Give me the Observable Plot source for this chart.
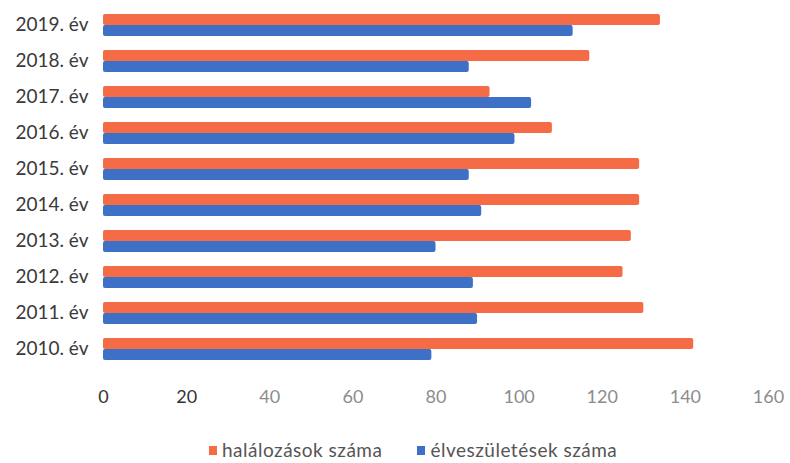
<!DOCTYPE html>
<html><head><meta charset="utf-8">
<script src="https://cdn.jsdelivr.net/npm/d3@7"></script>
<script src="https://cdn.jsdelivr.net/npm/@observablehq/plot@0.6"></script>
<style>
body{margin:0;background:#fff;font-family:Lato,"Open Sans",sans-serif;overflow:hidden;}
#legend{height:23px;line-height:23px;display:flex;align-items:center;justify-content:flex-start;padding-left:209px;font-size:19px;letter-spacing:0.5px;color:#555;gap:35px;position:relative;top:-2px;}
#legend span.sw{display:inline-block;width:8px;height:9px;margin-right:5px;vertical-align:middle;position:relative;top:-2px;}
</style></head>
<body><div id="chart"></div><div id="legend"></div>
<script>
const years = ["2019. év","2018. év","2017. év","2016. év","2015. év","2014. év","2013. év","2012. év","2011. év","2010. év"];
const seriesNames = ["halálozások száma","élveszületések száma"];
const deaths = [134,117,93,108,129,129,127,125,130,142];
const births = [113,88,103,99,88,91,80,89,90,79];
const colors = ["#f46b45","#3e70c6"];
const xTicks = [0,20,40,60,80,100,120,140,160];

const data = [];
years.forEach((y,i)=>{
  data.push({year:y, series:seriesNames[0], value:deaths[i]});
  data.push({year:y, series:seriesNames[1], value:births[i]});
});

const chart = Plot.plot({
  width: 790, height: 440,
  marginLeft: 103, marginRight: 22, marginTop: 9, marginBottom: 75,
  style: {fontFamily: "Lato, 'Open Sans', sans-serif", background: "#fff"},
  x: {domain:[0,160], ticks: xTicks, label: null},
  y: {domain: seriesNames, padding: 0, axis: null},
  fy: {domain: years, padding: 0.36, label: null, axis: null},
  color: {domain: seriesNames, range: colors},
  marks: [
    Plot.barX(data, {fy:"year", y:"series", x:"value", fill:"series", rx: 2}),
    Plot.axisX({ticks: xTicks, tickSize: 0, tickPadding: 30, fontSize: 18, label: null,
      fill: d => d <= 20 ? "#333" : "#8c8c8c"}),
    Plot.axisFy({anchor: "left", tickSize: 0, tickPadding: 15, fontSize: 19, fill: "#3a3a3a", label: null})
  ]
});
document.getElementById("chart").appendChild(chart);
const lg = document.getElementById("legend");
seriesNames.forEach((s,i)=>{
  const d = document.createElement("div");
  d.innerHTML = `<span class="sw" style="background:${colors[i]}"></span>${s}`;
  lg.appendChild(d);
});
</script></body></html>
